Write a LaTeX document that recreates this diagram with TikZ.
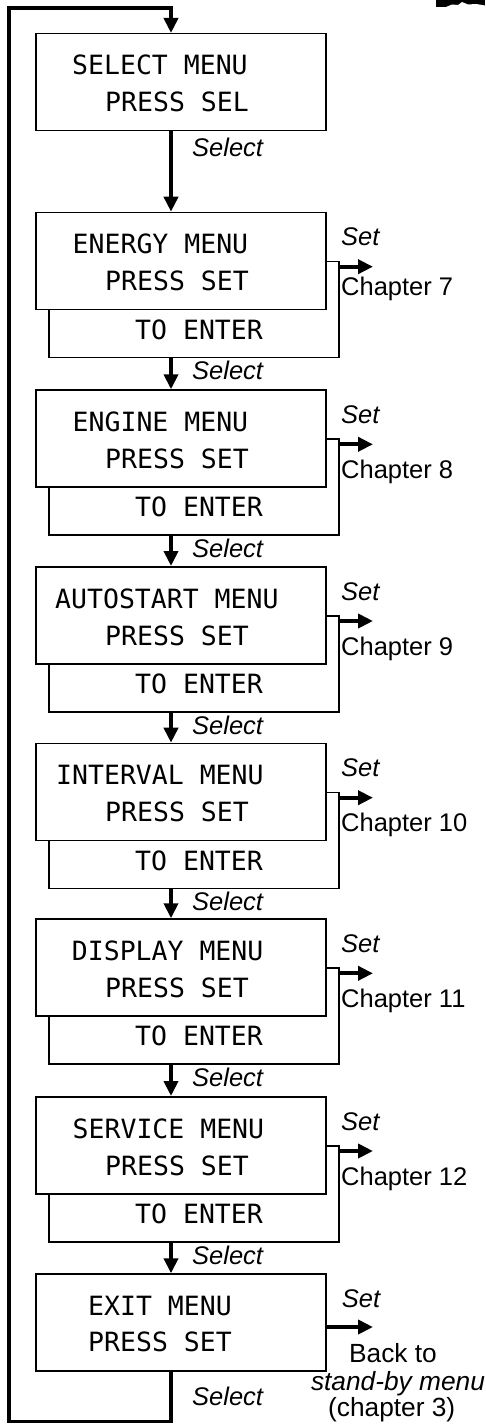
\documentclass[tikz,border=0pt]{standalone}
\usepackage{fontspec}
\setmainfont{Liberation Sans}
\newfontfamily\lcdfont{DejaVu Sans Mono}
\usetikzlibrary{arrows.meta,calc}
\begin{document}
\begin{tikzpicture}[x=1pt,y=-1pt,
 menubox/.style={draw, line width=1.5pt, fill=white, minimum width=290pt, minimum height=97pt, inner sep=0pt, anchor=north west},
 backbox/.style={draw, line width=1.5pt, fill=white, minimum width=290pt, minimum height=96pt, inner sep=0pt, anchor=north west},
 lcdtext/.style={font=\lcdfont\fontsize{26.5}{30}\selectfont, inner sep=0pt, anchor=base west},
 lbl/.style={font=\fontsize{25.5}{29}\selectfont, inner sep=0pt, anchor=base west},
 ilbl/.style={font=\fontsize{25.5}{29}\selectfont\itshape, inner sep=0pt, anchor=base west},
 flow/.style={line width=3.8pt, -{Triangle[length=15pt,width=14pt]}}
]
\useasboundingbox (0,0) rectangle (485,1426);
\coordinate (spine) at (171,0);

% top-right logo fragment
\fill (436,0) rectangle (485,7);
\fill[white] (446,7) -- (452,4.5) -- (458,5) -- (462,2) -- (468,4.5) -- (476,4) -- (485,5.5) -- (485,7) -- cycle;

% select menu
\node[menubox] (f0) at (35,33) {};
\node[lcdtext] (t0a) at (72,75) {SELECT MENU};
\node[lcdtext] (t0b) at (105,111.5) {PRESS SEL};
\node[ilbl] (s0) at (192,156.7) {Select};

% sub menus
\foreach \i/\nm/\lx/\ch/\t/\cb in {
 1/ENERGY MENU/72.5/7/211.7/84,
 2/ENGINE MENU/72.5/8/389.3/89,
 3/AUTOSTART MENU/55/9/566/89,
 4/INTERVAL MENU/56/10/742.7/89,
 5/DISPLAY MENU/71.7/11/918.3/89,
 6/SERVICE MENU/72.5/12/1096/89}{
 \node[backbox] (b\i) at (48,\t+49) {};
 \node[menubox] (f\i) at (35,\t) {};
 \node[lcdtext] (ta\i) at (\lx,\t+42) {\nm};
 \node[lcdtext] (tb\i) at (105,\t+79) {PRESS SET};
 \node[lcdtext] (tc\i) at (135,\t+127.5) {TO ENTER};
 \node[ilbl] (set\i) at (341,\t+34) {Set};
 \node[lbl] (ch\i) at (341,\t+\cb) {Chapter \ch};
 \node[ilbl] (s\i) at (192,\t+168) {Select};
 \coordinate (e\i) at (373,\t+55);
 \draw[flow] ([yshift=-6pt]b\i.north east) -- (e\i);
}

% exit menu
\node[menubox] (f7) at (35,1273.3) {};
\node[lcdtext] (t7a) at (88,1315) {EXIT MENU};
\node[lcdtext] (t7b) at (88,1351.7) {PRESS SET};
\node[ilbl] (set7) at (341.7,1307) {Set};
\coordinate (e7) at (373,1327);
\draw[flow] (f7.east |- e7) -- (e7);
\node[lbl, anchor=base, font=\fontsize{26.3}{30}\selectfont] (bk1) at (393,1362) {Back to};
\node[ilbl, anchor=base, font=\fontsize{26.3}{30}\selectfont\itshape] (bk2) at (398,1390) {stand-by menu};
\node[lbl, anchor=base, font=\fontsize{26.3}{30}\selectfont] (bk3) at (391.7,1416.5) {(chapter 3)};
\node[ilbl] (s7) at (192,1405) {Select};

% select flow
\draw[flow] (f0.south -| spine) -- (f1.north -| spine);
\foreach \i/\j in {1/2,2/3,3/4,4/5,5/6,6/7}{
 \draw[flow] (b\i.south -| spine) -- (f\j.north -| spine);
}

% return loop
\coordinate (lb) at (9,1421.5);
\coordinate (lt) at (9,8);
\draw[flow, line join=miter] (f7.south -| spine) |- (lb) -- (lt) -| (f0.north -| spine);
\end{tikzpicture}
\end{document}
